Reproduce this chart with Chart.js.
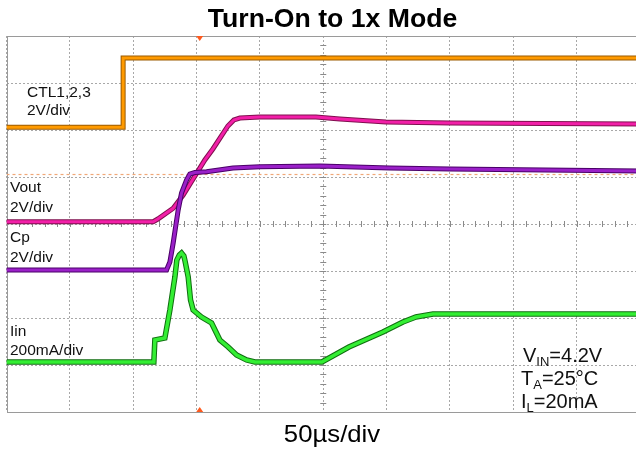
<!DOCTYPE html>
<html>
<head>
<meta charset="utf-8">
<script src="https://cdn.jsdelivr.net/npm/chart.js@4.4.0/dist/chart.umd.min.js"></script>
<style>
  html, body { margin: 0; padding: 0; background: #fff; overflow: hidden; }
  #wrap { width: 640px; height: 449px; position: relative; }
  canvas { display: block; }
</style>
</head>
<body>
<div id="wrap"><canvas id="c" width="640" height="449"></canvas></div>
<script>
// Time axis in divisions (50µs/div), vertical axis in divisions (0 = bottom, 8 = top)
const ctlX  = [0, 1.841, 1.841, 10];
const ctlY  = [6.06, 6.06, 7.53, 7.53];

const voutX = [0, 2.315, 2.389, 2.631, 2.789, 3.131, 3.258, 3.495, 3.589, 3.684, 3.999, 4.884, 5.263, 5.989, 7.0, 10];
const voutY = [4.049, 4.049, 4.106, 4.334, 4.617, 5.362, 5.596, 6.085, 6.213, 6.255, 6.277, 6.277, 6.234, 6.170, 6.149, 6.128];

const cpX = [0, 2.526, 2.579, 2.631, 2.710, 2.763, 2.842, 2.894, 2.973, 3.158, 3.574, 4.0, 4.947, 6.053, 7.0, 10];
const cpY = [3.021, 3.021, 3.191, 3.596, 4.298, 4.660, 4.936, 5.064, 5.096, 5.113, 5.191, 5.219, 5.234, 5.191, 5.170, 5.128];

const iinX = [0, 2.326, 2.342, 2.500, 2.579, 2.658, 2.689, 2.729, 2.763, 2.800, 2.815, 2.868, 2.905, 2.946, 3.079, 3.237, 3.368, 3.499, 3.632, 3.790, 3.921, 4.979, 5.405, 5.942, 6.258, 6.463, 6.732, 7.0, 10];
const iinY = [1.064, 1.064, 1.532, 1.574, 2.170, 2.872, 3.234, 3.340, 3.383, 3.319, 3.234, 2.872, 2.383, 2.170, 2.021, 1.894, 1.532, 1.383, 1.213, 1.106, 1.064, 1.064, 1.383, 1.702, 1.915, 2.021, 2.085, 2.085, 2.085];

const refLevel = 5.053;     // dashed trigger/reference level
const trigPos  = 3.05;      // trigger position marker (divisions)

const titleText  = "Turn-On to 1x Mode";
const xAxisLabel = "50µs/div";
const traceLabels = [
  ["CTL1,2,3", "2V/div"],
  ["Vout", "2V/div"],
  ["Cp", "2V/div"],
  ["Iin", "200mA/div"]
];
const condLabels = [["V", "IN", "=4.2V"], ["T", "A", "=25°C"], ["I", "L", "=20mA"]];

function pts(xs, ys) { return xs.map((x, i) => ({x: x, y: ys[i]})); }

function band(xs, ys, bright, dark, w) {
  return [
    {data: pts(xs, ys), borderColor: dark, borderWidth: w + 2, pointRadius: 0, tension: 0, fill: false},
    {data: pts(xs, ys), borderColor: bright, borderWidth: w, pointRadius: 0, tension: 0, fill: false}
  ];
}

// bottom-to-top order; reversed because Chart.js paints dataset 0 last
const datasets = [
  {data: pts([0, 10], [refLevel, refLevel]), borderColor: '#F0A878', borderWidth: 1.2, borderDash: [3, 3], pointRadius: 0, fill: false},
  ...band(ctlX, ctlY, '#FF9A00', '#9A5A00', 3),
  ...band(voutX, voutY, '#F21FA8', '#80104F', 3),
  ...band(cpX, cpY, '#9A20C8', '#4A0068', 3),
  ...band(iinX, iinY, '#33EE33', '#106E10', 3.5)
].reverse();

function stretchedText(ctx, text, cx, y, font, sx) {
  ctx.save();
  ctx.font = font;
  ctx.textAlign = 'center';
  ctx.translate(cx, y);
  ctx.scale(sx, 1);
  ctx.fillText(text, 0, 0);
  ctx.restore();
}

const scopePlugin = {
  id: 'scope',
  beforeDatasetsDraw(chart) {
    const ctx = chart.ctx, xs = chart.scales.x, ys = chart.scales.y, a = chart.chartArea;
    ctx.save();
    ctx.strokeStyle = '#8a8a8a';
    ctx.lineWidth = 1;
    const cy = ys.getPixelForValue(4), cx = xs.getPixelForValue(5);
    ctx.beginPath();
    for (let v = 0; v <= 10.001; v += 0.2) {
      const px = Math.round(xs.getPixelForValue(v)) + 0.5;
      ctx.moveTo(px, cy - 3); ctx.lineTo(px, cy + 3);
    }
    for (let v = 0; v <= 8.001; v += 0.2) {
      const py = Math.round(ys.getPixelForValue(v)) + 0.5;
      ctx.moveTo(cx - 3, py); ctx.lineTo(cx + 3, py);
    }
    ctx.stroke();
    ctx.strokeStyle = '#9a9a9a';
    ctx.strokeRect(Math.round(a.left) + 0.5, Math.round(a.top) + 0.5, a.right - a.left, a.bottom - a.top);
    ctx.restore();
  },
  afterDraw(chart) {
    const ctx = chart.ctx, xs = chart.scales.x, a = chart.chartArea;
    ctx.save();
    const tx = xs.getPixelForValue(trigPos);
    ctx.fillStyle = '#FF5A1E';
    ctx.beginPath(); ctx.moveTo(tx - 3.5, a.top); ctx.lineTo(tx + 3.5, a.top); ctx.lineTo(tx, a.top + 5); ctx.closePath(); ctx.fill();
    ctx.beginPath(); ctx.moveTo(tx - 3.5, a.bottom); ctx.lineTo(tx + 3.5, a.bottom); ctx.lineTo(tx, a.bottom - 5); ctx.closePath(); ctx.fill();

    ctx.fillStyle = '#000';
    ctx.textBaseline = 'alphabetic';
    stretchedText(ctx, titleText, 332.5, 27, 'bold 25px "Liberation Sans", Arial, sans-serif', 1.065);
    stretchedText(ctx, xAxisLabel, 332, 441.5, '24.5px "Liberation Sans", Arial, sans-serif', 1.05);
    ctx.textAlign = 'left';
    ctx.fillStyle = '#111';
    ctx.font = '15.5px "Liberation Sans", Arial, sans-serif';
    const lpos = [[27, 97, 115], [10, 192, 212], [10, 242, 262], [10, 336, 355]];
    traceLabels.forEach((l, i) => {
      ctx.fillText(l[0], lpos[i][0], lpos[i][1]);
      ctx.fillText(l[1], lpos[i][0], lpos[i][2]);
    });
    const cpos = [[523, 362], [521, 385], [521, 408]];
    condLabels.forEach((c, i) => {
      let x = cpos[i][0], y = cpos[i][1];
      ctx.font = '20px "Liberation Sans", Arial, sans-serif';
      ctx.fillText(c[0], x, y); x += ctx.measureText(c[0]).width;
      ctx.font = '13px "Liberation Sans", Arial, sans-serif';
      ctx.fillText(c[1], x, y + 4); x += ctx.measureText(c[1]).width;
      ctx.font = '20px "Liberation Sans", Arial, sans-serif';
      ctx.fillText(c[2], x, y);
    });
    ctx.restore();
  }
};

new Chart(document.getElementById('c'), {
  type: 'line',
  data: {datasets: datasets},
  options: {
    responsive: false,
    animation: false,
    events: [],
    layout: {padding: {left: 6.5, right: 0, top: 36, bottom: 37}},
    plugins: {legend: {display: false}, tooltip: {enabled: false}, title: {display: false}},
    scales: {
      x: {
        type: 'linear', min: 0, max: 10,
        ticks: {display: false, stepSize: 1},
        grid: {color: '#a8a8a8', lineWidth: 1, drawTicks: false},
        border: {display: false, dash: [2, 2]}
      },
      y: {
        type: 'linear', min: 0, max: 8,
        ticks: {display: false, stepSize: 1},
        grid: {color: '#a8a8a8', lineWidth: 1, drawTicks: false},
        border: {display: false, dash: [2, 2]}
      }
    }
  },
  plugins: [scopePlugin]
});
</script>
</body>
</html>
